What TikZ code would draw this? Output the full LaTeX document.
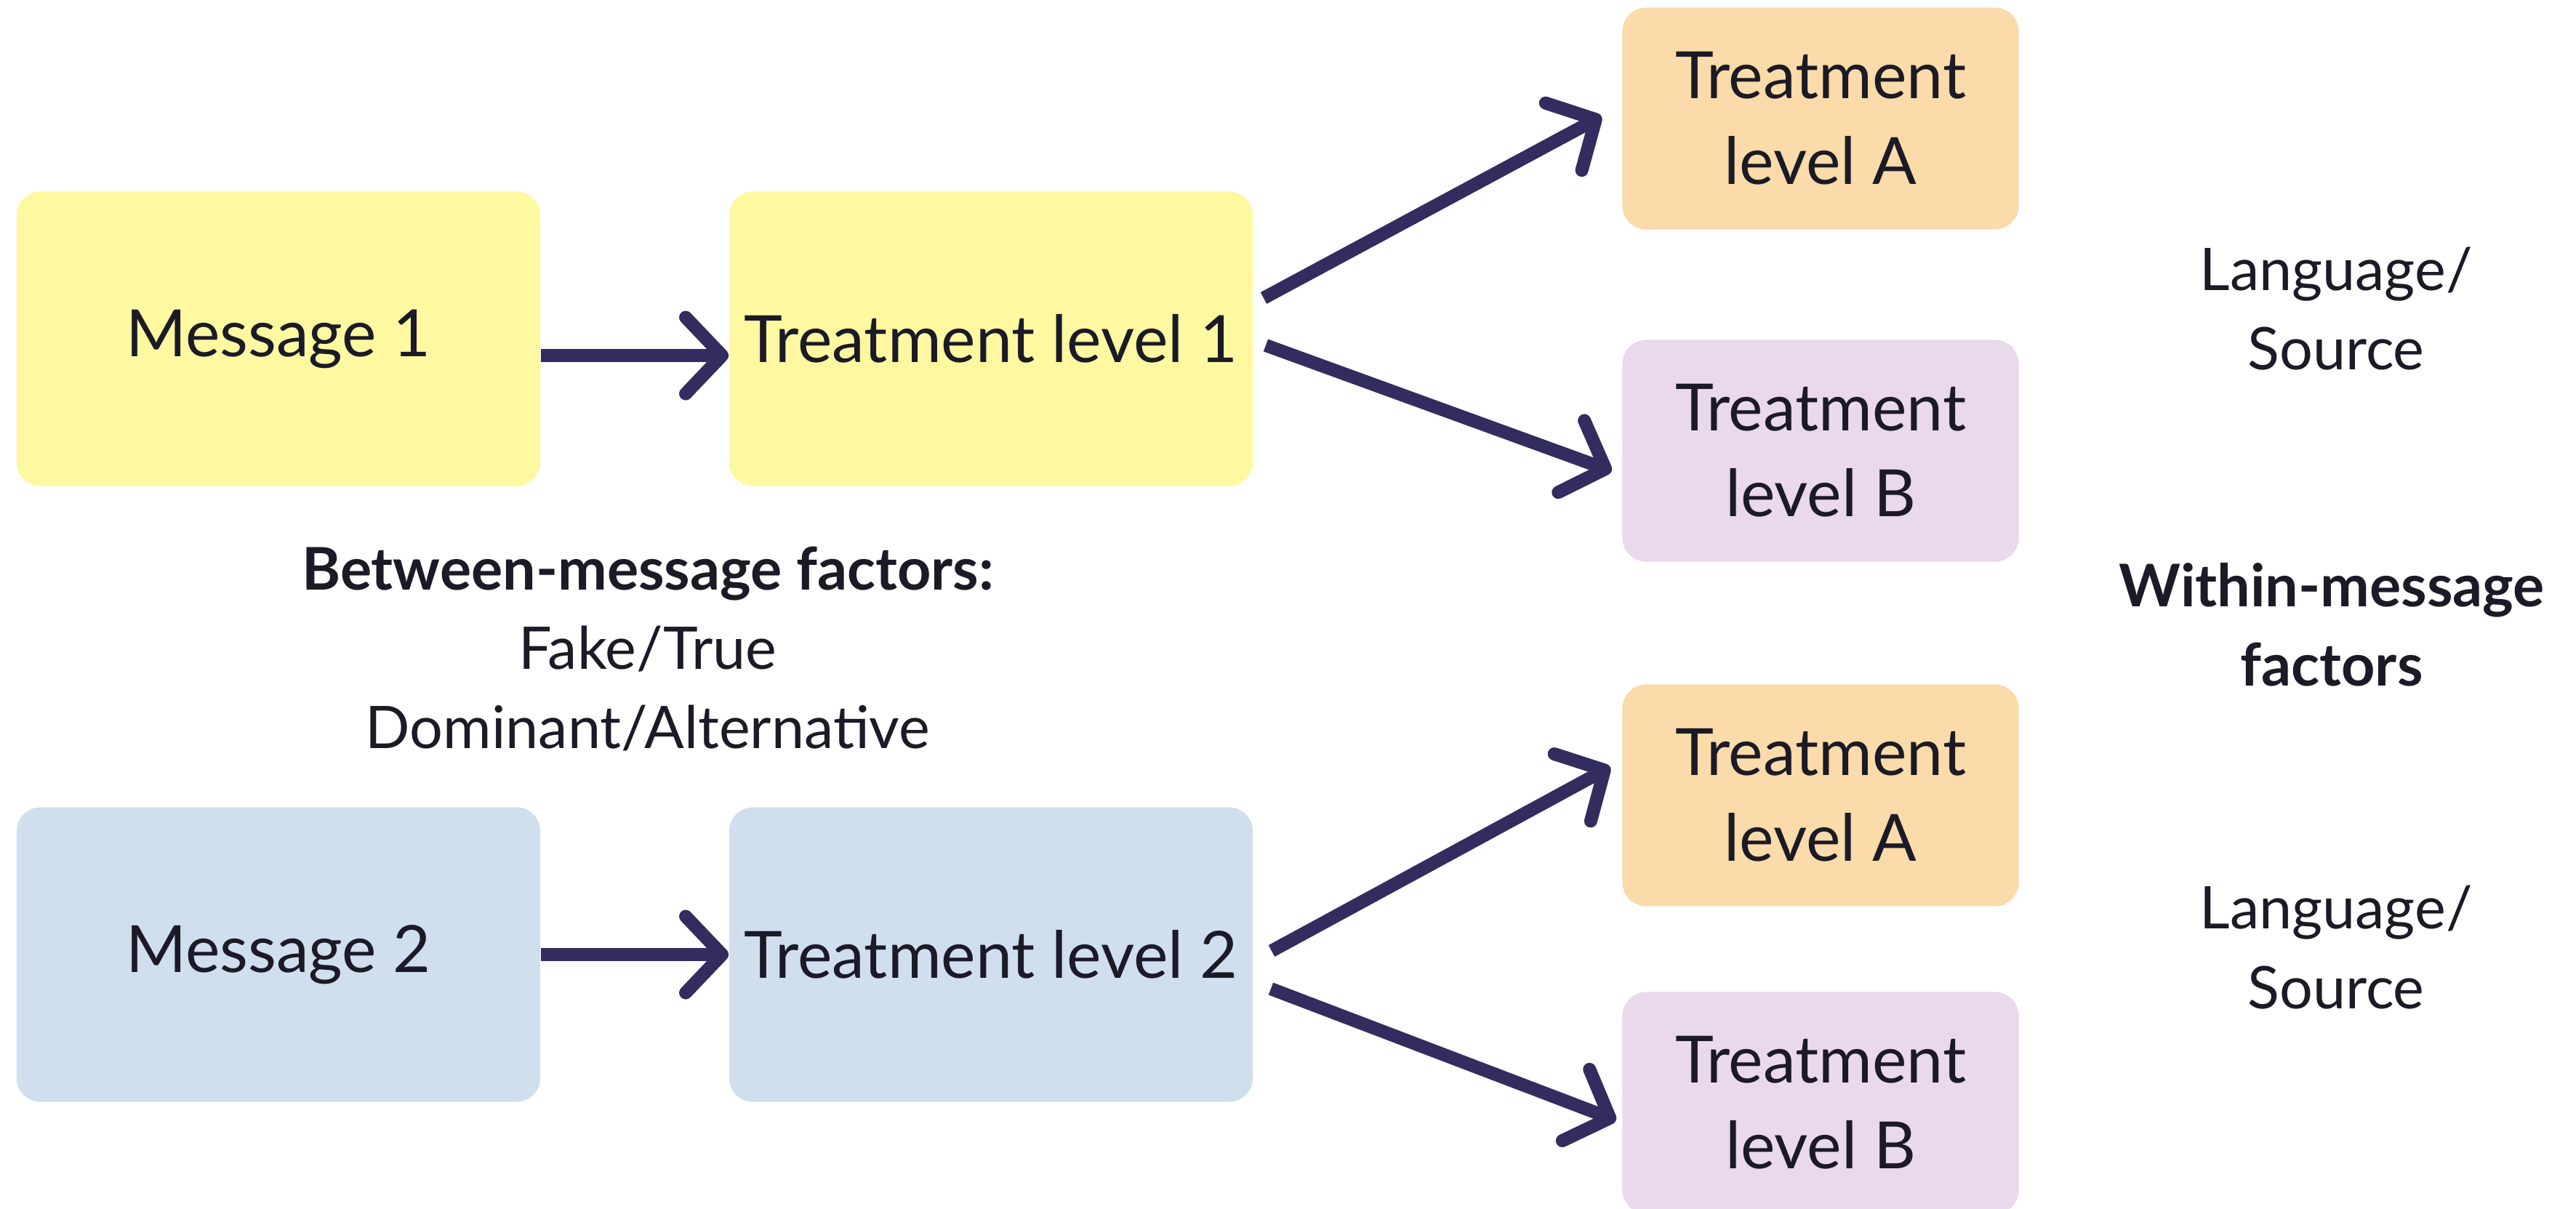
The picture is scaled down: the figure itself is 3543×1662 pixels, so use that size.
\documentclass[tikz,border=0pt]{standalone}
\usepackage{fontspec}
\setmainfont{Lato}
\usepackage{tikz}
\usetikzlibrary{arrows.meta,calc,positioning}

\definecolor{msgone}{HTML}{FEF8A1}
\definecolor{msgtwo}{HTML}{CFDFEE}
\definecolor{levela}{HTML}{FADBA9}
\definecolor{levelb}{HTML}{EAD8EC}
\definecolor{ink}{HTML}{1B1A26}
\definecolor{arrowc}{HTML}{322C5F}

\tikzset{
    card/.style={rounded corners=0.33cm, minimum width=7.2cm, minimum height=4.05cm, align=center, text=ink, font=\fontsize{25.5}{33.5}\selectfont},
    smallcard/.style={card, minimum width=5.45cm, minimum height=3.05cm},
    flow/.style={draw=arrowc, line width=0.18cm, -{Straight Barb[length=0.5cm,width=1.05cm,round]}},
    note/.style={align=center, text=ink, font=\fontsize{23}{31}\selectfont}
}

\begin{document}
\begin{tikzpicture}[x=0.01cm, y=-0.01cm]
    \useasboundingbox (0,0) rectangle (3543,1662);
    \clip (0,0) rectangle (3543,1662);

    % messages and their treatment levels
    \node[card, fill=msgone] (m1) at (383,466) {Message 1};
    \node[card, fill=msgone] (t1) at (1363,466) {Treatment level 1};
    \node[card, fill=msgtwo] (m2) at (383,1313) {Message 2};
    \node[card, fill=msgtwo] (t2) at (1363,1313) {Treatment level 2};

    % within-message levels
    \node[smallcard, fill=levela] (a1) at (2504,163) {Treatment\\level A};
    \node[smallcard, fill=levelb] (b1) at (2504,620) {Treatment\\level B};
    \node[smallcard, fill=levela] (a2) at (2504,1094) {Treatment\\level A};
    \node[smallcard, fill=levelb] (b2) at (2504,1517) {Treatment\\level B};

    \draw[flow] ([yshift=-0.23cm]m1.east) -- ([yshift=-0.23cm]t1.west);
    \draw[flow] (m2.east) -- (t2.west);

    \draw[flow] ([shift={(14,-56)}]t1.east) -- ([shift={(-28,-3)}]a1.west);
    \draw[flow] ([shift={(17,9)}]t1.east) -- ([shift={(-14,28)}]b1.west);
    \draw[flow] ([shift={(25,-5)}]t2.east) -- ([shift={(-16,-39)}]a2.west);
    \draw[flow] ([shift={(24,47)}]t2.east) -- ([shift={(-8,24)}]b2.west);

    % factor labels
    \node[note] (between) at (891,893) {\textbf{Between-message factors:}\\Fake/True\\Dominant/Alternative};
    \node[note] (lang1) at (3213,425) {Language/\\Source};
    \node[note, font=\fontsize{23}{31}\selectfont\bfseries] (within) at (3207,859) {Within-message\\factors};
    \node[note] (lang2) at (3213,1303) {Language/\\Source};
\end{tikzpicture}
\end{document}
